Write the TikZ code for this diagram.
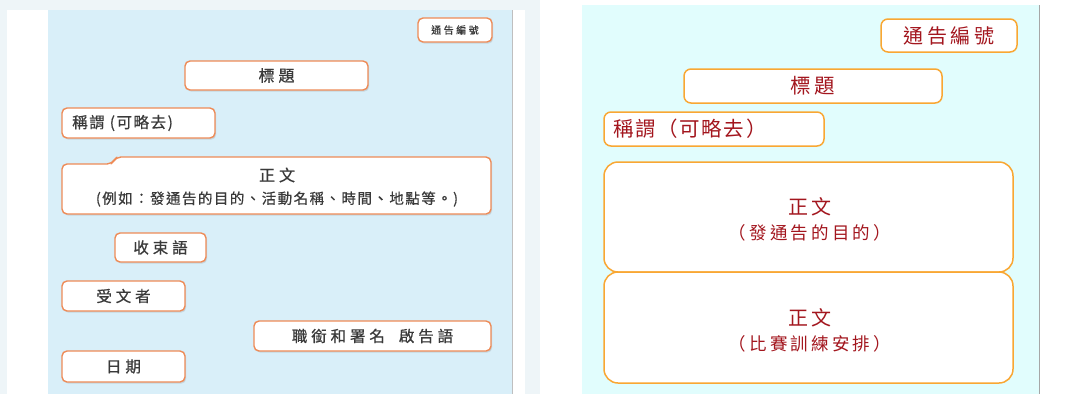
\documentclass[tikz,border=0pt]{standalone}
\usepackage{fontspec}
\newfontfamily\cjkl[LetterSpace=25,FakeBold=0.6]{Noto Sans CJK TC}
\newfontfamily\cjks[LetterSpace=10,FakeBold=0.6]{Noto Sans CJK TC}
\newfontfamily\cjkr[LetterSpace=18]{Noto Sans CJK TC}
\newfontfamily\cjkrs[LetterSpace=8]{Noto Sans CJK TC}
\usetikzlibrary{shadows}
\definecolor{pageback}{HTML}{EEF5F8}
\definecolor{lblue}{HTML}{D9EFF9}
\definecolor{rcyan}{HTML}{E1FDFD}
\definecolor{lorange}{HTML}{EE8B57}
\definecolor{rorange}{HTML}{F9A733}
\definecolor{ltext}{HTML}{3A3A3A}
\definecolor{rtext}{HTML}{A3161E}
\begin{document}
\begin{tikzpicture}[x=1pt,y=-1pt,
  lbox/.style={draw=lorange, line width=1.4pt, fill=white, rounded corners=5pt,
    drop shadow={shadow xshift=1.2pt, shadow yshift=-1.6pt, opacity=0.22},
    inner sep=0pt},
  rbox/.style={draw=rorange, line width=1.5pt, fill=white, rounded corners=7pt, inner sep=0pt},
  rbig/.style={rbox, rounded corners=14pt},
  ltxt/.style={text=ltext, font=\cjkl\fontsize{15.5}{18}\selectfont, inner sep=0pt},
  rtxt/.style={text=rtext, font=\cjkr\fontsize{20}{24}\selectfont, inner sep=0pt},
  rsub/.style={text=rtext, font=\cjkr\fontsize{17.5}{20}\selectfont, inner sep=0pt}]
\useasboundingbox (0,0) rectangle (1083,394);
% backgrounds
\fill[pageback] (0,0) rectangle (1083,394);
\fill[white] (7,10) rectangle (525,394);
\fill[lblue] (48,10) rectangle (512,394);
\draw[gray!50, line width=1pt] (512.5,10) -- (512.5,394);
\fill[white] (540,0) rectangle (1083,394);
\fill[rcyan] (582,5) rectangle (1039,394);
\draw[gray!70, line width=1.3pt] (1039.5,5) -- (1039.5,394);

% ---------- left panel ----------
\node[lbox, minimum width=74pt, minimum height=24pt] (lnum) at (455,30)
  {\textcolor{ltext}{\cjkl\fontsize{10}{12}\selectfont 通告編號}};
\node[lbox, minimum width=183pt, minimum height=29pt] (ltitle) at (276.5,75.5)
  {\textcolor{ltext}{\cjkl\fontsize{16}{18}\selectfont 標題}};
\node[lbox, minimum width=153pt, minimum height=30pt] (lsalbox) at (138.5,123) {};
\node[ltxt, anchor=west, font=\cjks\fontsize{15.5}{18}\selectfont] (lsal) at (72,123) {稱謂 (可略去)};
\filldraw[draw=lorange, line width=1.4pt, fill=white, rounded corners=5pt,
    drop shadow={shadow xshift=1.2pt, shadow yshift=-1.6pt, opacity=0.22}]
  (62,214) -- (62,164) -- (112,164) -- (116,157) -- (491,157) -- (491,214) -- cycle;
\node[ltxt, font=\cjkl\fontsize{16}{18}\selectfont] (lbody) at (277,175) {正文};
\node[ltxt, font=\cjks\fontsize{14.5}{17}\selectfont] (lbodysub) at (277,199)
  {(例如：發通告的目的、活動名稱、時間、地點等。)};
\node[lbox, minimum width=91pt, minimum height=29pt] (lend) at (160.5,247.5)
  {\textcolor{ltext}{\cjkl\fontsize{15.5}{18}\selectfont 收束語}};
\node[lbox, minimum width=123pt, minimum height=30pt] (lrec) at (123.5,296)
  {\textcolor{ltext}{\cjkl\fontsize{15.5}{18}\selectfont 受文者}};
\node[lbox, minimum width=237pt, minimum height=30pt] (lsig) at (372.5,336)
  {\textcolor{ltext}{\cjkl\fontsize{15.5}{18}\selectfont 職銜和署名\hspace{14pt}啟告語}};
\node[lbox, minimum width=123pt, minimum height=31pt] (ldate) at (123.5,366.5)
  {\textcolor{ltext}{\cjkl\fontsize{15.5}{18}\selectfont 日期}};

% ---------- right panel ----------
\node[rbox, minimum width=136pt, minimum height=33pt] (rnum) at (949,35.5)
  {\textcolor{rtext}{\cjkr\fontsize{20}{24}\selectfont 通告編號}};
\node[rbox, minimum width=258pt, minimum height=34pt] (rtitle) at (813,86)
  {\textcolor{rtext}{\cjkr\fontsize{20.5}{24}\selectfont 標題}};
\node[rbox, minimum width=220pt, minimum height=34pt] (rsalbox) at (714,129) {};
\node[rtxt, anchor=west, font=\cjkrs\fontsize{20.5}{24}\selectfont] (rsal) at (613,129) {稱謂（可略去）};
\node[rbig, minimum width=409pt, minimum height=110pt] (rbody1box) at (808.5,217) {};
\node[rtxt] (rbody1) at (810,207) {正文};
\node[rsub] (rbody1sub) at (810,233) {（發通告的目的）};
\node[rbig, minimum width=409pt, minimum height=111pt] (rbody2box) at (808.5,327.5) {};
\node[rtxt] (rbody2) at (810,318) {正文};
\node[rsub] (rbody2sub) at (810,344) {（比賽訓練安排）};
\end{tikzpicture}
\end{document}
